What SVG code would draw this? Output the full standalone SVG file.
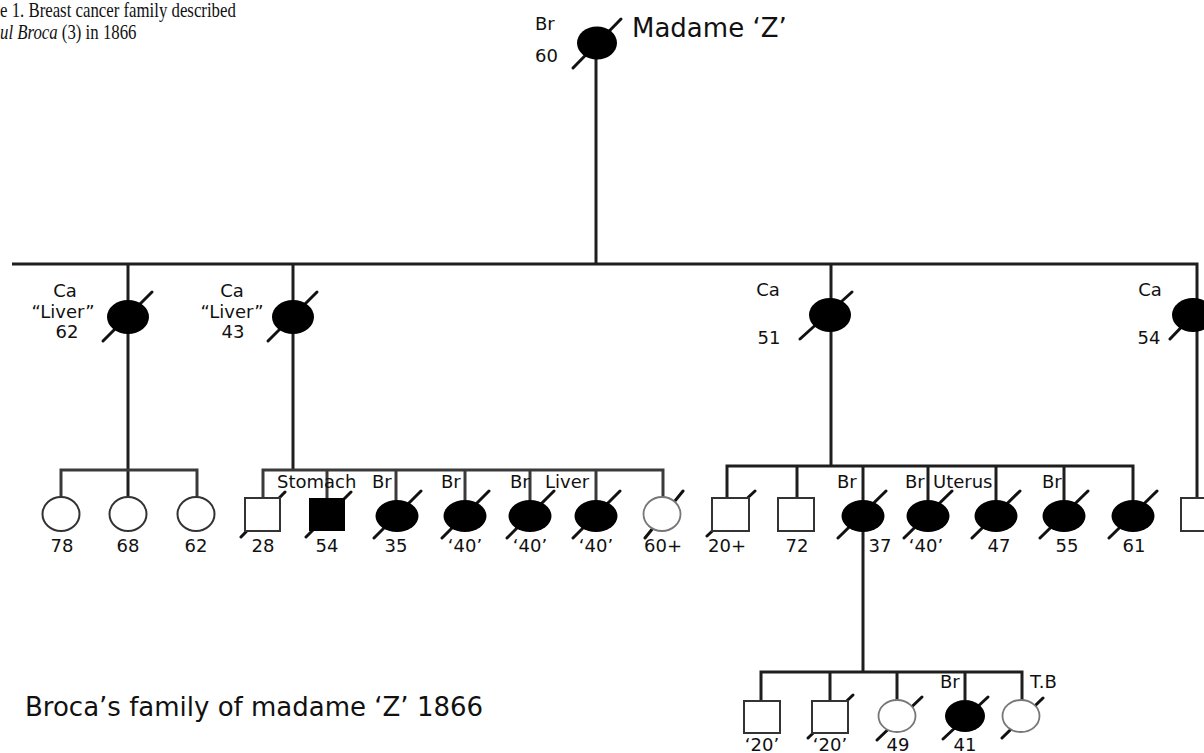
<svg xmlns="http://www.w3.org/2000/svg" width="1204" height="753" viewBox="0 0 1204 753">
<style>
.ln{stroke:#1e1e1e;stroke-width:3;fill:none}
.lg{stroke:#3a3a3a;stroke-width:3;fill:none}
.sl{stroke:#111;stroke-width:3;stroke-linecap:round}
.f{fill:#000}
.o{fill:#fff;stroke:#333;stroke-width:2}
.od{fill:#fff;stroke:#777;stroke-width:1.8}
.t{font-family:"DejaVu Sans",Verdana,sans-serif;font-size:18px;fill:#111}
.c{text-anchor:middle}
.big{font-family:"DejaVu Sans",Verdana,sans-serif;font-size:26px;fill:#111}
.cap{font-family:"Liberation Serif","Times New Roman",serif;font-size:21px;fill:#111}
</style>
<rect width="1204" height="753" fill="#fff"/>

<g id="caption-top" transform="scale(0.8,1)">
<text class="cap" x="0" y="16.5">e 1. Breast cancer family described</text>
<text class="cap" x="0" y="39"><tspan font-style="italic">ul Broca</tspan>  (3) in 1866</text>
</g>

<g id="connectors">
<path class="ln" d="M596,59 V264"/>
<path class="ln" d="M12,264 H1197 V498"/>
<path class="ln" d="M128,264 V497"/>
<path class="ln" d="M293,264 V470"/>
<path class="ln" d="M831,264 V466"/>
<path class="lg" d="M61,497 V470 H197 V497"/>
<path class="lg" d="M263,498 V470 H663 V497"/>
<path class="lg" d="M327,470 V498 M396,470 V502 M465,470 V502 M530,470 V502 M596,470 V502"/>
<path class="ln" d="M727,498 V466 H1133 V502"/>
<path class="ln" d="M797,466 V498 M863,466 V672 M928,466 V502 M996,466 V502 M1064,466 V502"/>
<path class="ln" d="M761,701 V672 H1022 V700"/>
<path class="ln" d="M830,672 V701 M897,672 V700 M965,672 V700"/>
</g>

<g id="madame-z">
<line class="sl" x1="573" y1="68" x2="621" y2="19"/>
<ellipse class="f" cx="597" cy="43" rx="20" ry="16.5"/>
<text class="t" x="535" y="30">Br</text>
<text class="t" x="535" y="61.5">60</text>
<text class="big" x="632" y="37">Madame ‘Z’</text>
</g>

<g id="g2-a">
<line class="sl" x1="103" y1="341" x2="152" y2="292"/>
<ellipse class="f" cx="128" cy="317" rx="21" ry="17"/>
<text class="t c" x="65" y="296.5">Ca</text>
<text class="t c" x="63" y="318">“Liver”</text>
<text class="t c" x="67" y="338">62</text>
</g>
<g id="g2-b">
<line class="sl" x1="268" y1="341" x2="317" y2="292"/>
<ellipse class="f" cx="293" cy="317" rx="21" ry="17"/>
<text class="t c" x="232" y="296.5">Ca</text>
<text class="t c" x="232" y="318">“Liver”</text>
<text class="t c" x="233" y="338">43</text>
</g>
<g id="g2-c">
<line class="sl" x1="800" y1="339" x2="852" y2="292"/>
<ellipse class="f" cx="830" cy="315" rx="21" ry="17"/>
<text class="t c" x="768" y="296">Ca</text>
<text class="t c" x="769" y="343.5">51</text>
</g>
<g id="g2-d">
<line class="sl" x1="1170" y1="339" x2="1216" y2="291"/>
<ellipse class="f" cx="1193" cy="315" rx="21" ry="17"/>
<text class="t c" x="1150" y="296">Ca</text>
<text class="t c" x="1149" y="344">54</text>
</g>

<g id="g3-78"><ellipse class="o" cx="61" cy="514" rx="18.5" ry="17"/><text class="t c" x="62" y="551.5">78</text></g>
<g id="g3-68"><ellipse class="o" cx="128" cy="514" rx="18.5" ry="17"/><text class="t c" x="128" y="551.5">68</text></g>
<g id="g3-62"><ellipse class="o" cx="196" cy="514" rx="18.5" ry="17"/><text class="t c" x="196" y="551.5">62</text></g>

<g id="g3-28">
<line class="sl" x1="241" y1="537" x2="285" y2="492"/>
<rect class="o" x="245" y="498" width="35" height="33"/>
<text class="t c" x="263" y="551.5">28</text>
</g>
<g id="g3-54">
<line class="sl" x1="306" y1="537" x2="351" y2="492"/>
<rect class="f" x="309" y="498" width="36" height="33"/>
<text class="t" x="277" y="488">Stomach</text>
<text class="t c" x="327" y="551.5">54</text>
</g>
<g id="g3-35">
<line class="sl" x1="374" y1="538" x2="421" y2="491"/>
<ellipse class="f" cx="397" cy="516" rx="21.5" ry="16"/>
<text class="t" x="372" y="488">Br</text>
<text class="t c" x="396" y="551.5">35</text>
</g>
<g id="g3-40a">
<line class="sl" x1="442" y1="538" x2="489" y2="491"/>
<ellipse class="f" cx="465" cy="516" rx="21.5" ry="16"/>
<text class="t" x="441" y="488">Br</text>
<text class="t c" x="465" y="551.5">‘40’</text>
</g>
<g id="g3-40b">
<line class="sl" x1="507" y1="538" x2="554" y2="491"/>
<ellipse class="f" cx="530" cy="516" rx="21.5" ry="16"/>
<text class="t" x="510" y="488">Br</text>
<text class="t c" x="530" y="551.5">‘40’</text>
</g>
<g id="g3-40c">
<line class="sl" x1="573" y1="538" x2="620" y2="491"/>
<ellipse class="f" cx="596" cy="516" rx="21.5" ry="16"/>
<text class="t" x="545" y="488">Liver</text>
<text class="t c" x="596" y="551.5">‘40’</text>
</g>
<g id="g3-60">
<line class="sl" x1="645" y1="538" x2="683" y2="491"/>
<ellipse class="od" cx="662" cy="514" rx="18.5" ry="17"/>
<text class="t c" x="663" y="551.5">60+</text>
</g>

<g id="g3-20">
<line class="sl" x1="707" y1="536" x2="755" y2="491"/>
<rect class="o" x="712" y="498" width="37" height="33"/>
<text class="t c" x="727" y="551.5">20+</text>
</g>
<g id="g3-72">
<rect class="o" x="778" y="498" width="36" height="33"/>
<text class="t c" x="797" y="551.5">72</text>
</g>
<g id="g3-37">
<line class="sl" x1="838" y1="538" x2="886" y2="491"/>
<ellipse class="f" cx="863" cy="516" rx="21.5" ry="16"/>
<text class="t" x="837" y="488">Br</text>
<text class="t c" x="880" y="551.5">37</text>
</g>
<g id="g3-40d">
<line class="sl" x1="904" y1="538" x2="952" y2="491"/>
<ellipse class="f" cx="928" cy="516" rx="21.5" ry="16"/>
<text class="t" x="905" y="488">Br</text>
<text class="t" x="933" y="488">Uterus</text>
<text class="t c" x="926" y="551.5">‘40’</text>
</g>
<g id="g3-47">
<line class="sl" x1="972" y1="538" x2="1020" y2="491"/>
<ellipse class="f" cx="996" cy="516" rx="21.5" ry="16"/>
<text class="t c" x="999" y="551.5">47</text>
</g>
<g id="g3-55">
<line class="sl" x1="1040" y1="538" x2="1088" y2="491"/>
<ellipse class="f" cx="1064" cy="516" rx="21.5" ry="16"/>
<text class="t" x="1042" y="488">Br</text>
<text class="t c" x="1067" y="551.5">55</text>
</g>
<g id="g3-61">
<line class="sl" x1="1109" y1="538" x2="1157" y2="491"/>
<ellipse class="f" cx="1133" cy="516" rx="21.5" ry="16"/>
<text class="t c" x="1134" y="551.5">61</text>
</g>
<g id="g3-right">
<rect class="o" x="1181" y="498" width="36" height="33"/>
</g>

<g id="g4-20a">
<rect class="o" x="744" y="701" width="36" height="32"/>
<text class="t c" x="762" y="751">‘20’</text>
</g>
<g id="g4-20b">
<line class="sl" x1="808" y1="738" x2="853" y2="695"/>
<rect class="o" x="812" y="701" width="36" height="32"/>
<text class="t c" x="830" y="751">‘20’</text>
</g>
<g id="g4-49">
<line class="sl" x1="877" y1="740" x2="922" y2="697"/>
<ellipse class="od" cx="897" cy="716" rx="18.5" ry="16"/>
<text class="t c" x="898" y="751">49</text>
</g>
<g id="g4-41">
<line class="sl" x1="943" y1="739" x2="988" y2="697"/>
<ellipse class="f" cx="965" cy="716" rx="20" ry="16"/>
<text class="t" x="940" y="688">Br</text>
<text class="t c" x="965" y="751">41</text>
</g>
<g id="g4-tb">
<line class="sl" x1="1002" y1="738" x2="1043" y2="698"/>
<ellipse class="od" cx="1021" cy="716" rx="18.5" ry="16"/>
<text class="t" x="1030" y="688">T.B</text>
</g>

<text id="caption" class="big" x="25" y="716">Broca’s family of madame ‘Z’ 1866</text>
</svg>
